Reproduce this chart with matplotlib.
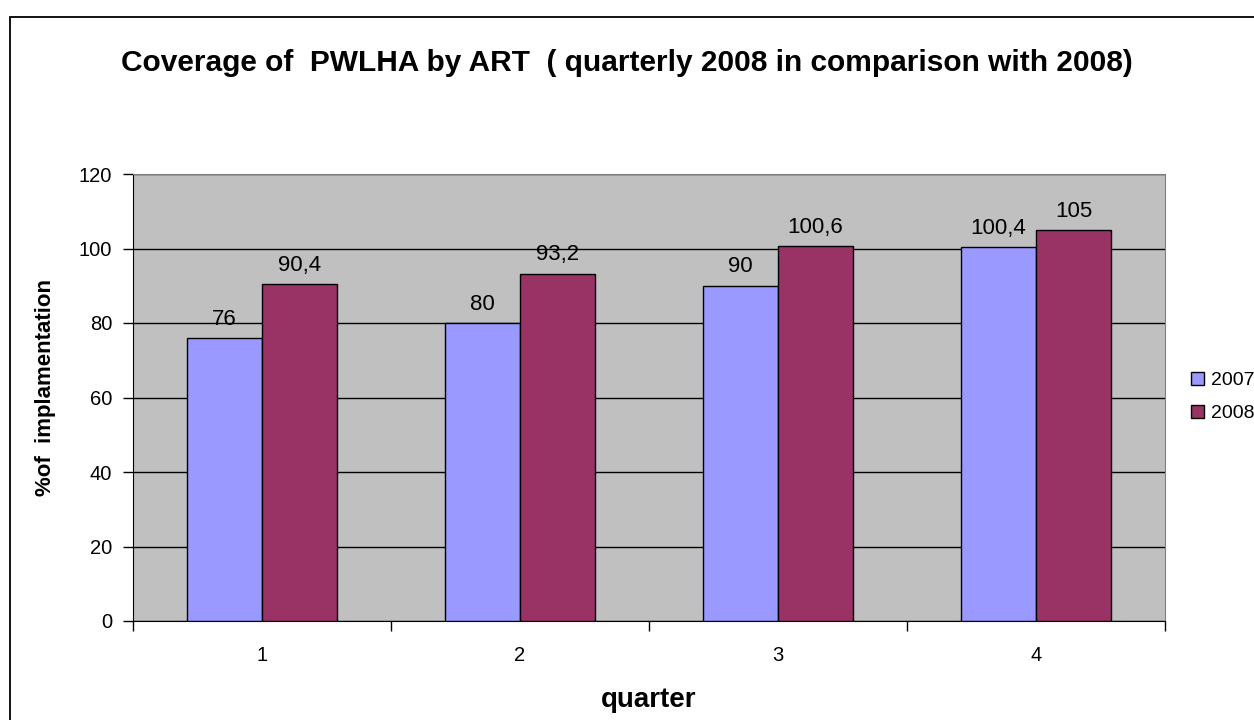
import numpy as np
import matplotlib

matplotlib.use("Agg")
import matplotlib.pyplot as plt
import matplotlib.patches as patches

plt.rcParams["font.family"] = ["Liberation Sans", "DejaVu Sans"]

quarters = ["1", "2", "3", "4"]
series_names = ["2007", "2008"]
vals_2007 = [76, 80, 90, 100.4]
vals_2008 = [90.4, 93.2, 100.6, 105]
yticks = [0, 20, 40, 60, 80, 100, 120]

W, H = 1254, 720
fig = plt.figure(figsize=(W / 100, H / 100), dpi=100)
ax = fig.add_axes([133 / W, 1 - 621 / H, (1165 - 133) / W, (621 - 174) / H])

# outer chart frame (cut off at right and bottom)
fig.add_artist(patches.Rectangle((10 / W, -0.1), 1.2, 1.1 - 17 / H, fill=False,
                                 edgecolor="black", lw=1.3,
                                 transform=fig.transFigure))

ax.set_facecolor("#C0C0C0")
x = np.arange(len(quarters))
bw = 0.29
b1 = ax.bar(x - bw / 2, vals_2007, bw, color="#9999FF", edgecolor="black",
            lw=1, label=series_names[0], zorder=3)
b2 = ax.bar(x + bw / 2, vals_2008, bw, color="#993366", edgecolor="black",
            lw=1, label=series_names[1], zorder=3)

for bars, vals in ((b1, vals_2007), (b2, vals_2008)):
    for r, v in zip(bars, vals):
        ax.annotate(f"{v:g}".replace(".", ","),
                    (r.get_x() + r.get_width() / 2, v),
                    textcoords="offset points", xytext=(0, 6),
                    ha="center", va="bottom", fontsize=16)

ax.set_xlim(-0.5, len(quarters) - 0.5)
ax.set_ylim(0, 120)
ax.set_yticks(yticks)
ax.yaxis.grid(True, color="black", lw=1, zorder=1)
ax.set_axisbelow(True)
ax.tick_params(axis="y", labelsize=14.5, length=7, width=1, pad=8)

ax.set_xticks(x, quarters)
ax.set_xticks(np.arange(-0.5, len(quarters), 1), minor=True)
ax.tick_params(axis="x", which="major", length=0, labelsize=14.5, pad=18)
ax.tick_params(axis="x", which="minor", length=7, width=1)

for s in ("top", "right"):
    ax.spines[s].set_color("#808080")
ax.spines["left"].set_color("black")
ax.spines["bottom"].set_color("black")

fig.text(649 / W, 1 - 700 / H, "quarter", ha="center", va="center",
         fontsize=20, fontweight="bold")
fig.text(46 / W, 1 - 388 / H, "%of  implamentation", ha="center", va="center",
         rotation=90, fontsize=16, fontweight="bold")

fig.text(627 / W, 1 - 63 / H,
         "Coverage of  PWLHA by ART  ( quarterly 2008 in comparison with 2008)",
         ha="center", va="center", fontsize=21.5, fontweight="bold")

# the reference legend runs off the right edge; keep it just inside
fig.legend(handles=[b1, b2], loc="center left",
           bbox_to_anchor=(1181 / W, 1 - 397 / H), frameon=False,
           fontsize=14, handlelength=0.7, handleheight=0.7,
           handletextpad=0.35, labelspacing=0.8, borderpad=0)

fig.savefig("out.png", dpi=100)
